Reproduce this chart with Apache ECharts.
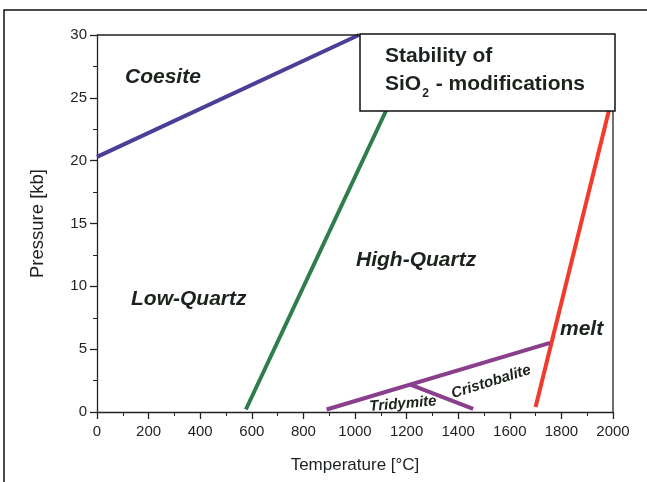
<!DOCTYPE html>
<html><head><meta charset="utf-8">
<script src="https://cdn.jsdelivr.net/npm/echarts@6/dist/echarts.min.js"></script>
<style>html,body{margin:0;padding:0;background:#fff}#c{width:647px;height:482px}</style>
</head><body><div id="c"></div>
<script>
// Phase boundaries [T °C, P kb]
const coesiteBoundary = [[0, 20.3], [1015, 30]];
const quartzBoundary = [[577, 0.2], [1258, 30]];
const meltBoundary = [[1700, 0.4], [2000, 25.3]];
const cristobaliteBoundary = [[890, 0.2], [1756, 5.5]];
const tridymiteBoundary = [[1217, 2.15], [1458, 0.25]];
const xTicks = [0, 200, 400, 600, 800, 1000, 1200, 1400, 1600, 1800, 2000];
const yTicks = [0, 5, 10, 15, 20, 25, 30];

const chart = echarts.init(document.getElementById('c'));
const FONT = 'Liberation Sans, Arial, sans-serif';
const TXT = '#1c221c';
function line(data, color) {
  return { type: 'line', data: data, symbol: 'none', clip: true,
    lineStyle: { color: color, width: 4 }, z: 3 };
}
function label(text, x, y, size, rot) {
  return { type: 'text', left: x, top: y, rotation: (rot || 0) * Math.PI / 180, z: 10,
    style: { text: text, font: 'italic bold ' + size + 'px ' + FONT, fill: TXT } };
}
chart.setOption({
  animation: false,
  grid: { left: 97, right: 34, top: 35, bottom: 70, show: false },
  xAxis: {
    type: 'value', min: 0, max: 2000, interval: 200,
    name: 'Temperature [°C]', nameLocation: 'middle', nameGap: 45,
    nameTextStyle: { fontFamily: FONT, fontSize: 17, color: TXT },
    axisLine: { show: true, onZero: false, lineStyle: { color: '#222', width: 1.3 } },
    axisTick: { show: true, length: 7, lineStyle: { color: '#222', width: 1.3 } },
    minorTick: { show: true, splitNumber: 2, length: 4, lineStyle: { color: '#222' } },
    splitLine: { show: false },
    axisLabel: { fontFamily: FONT, fontSize: 15, color: TXT, margin: 12,
      formatter: v => xTicks.includes(v) ? String(v) : '' }
  },
  yAxis: {
    type: 'value', min: 0, max: 30, interval: 5,
    name: 'Pressure [kb]', nameLocation: 'middle', nameGap: 50,
    nameTextStyle: { fontFamily: FONT, fontSize: 18.5, color: TXT },
    axisLine: { show: true, onZero: false, lineStyle: { color: '#222', width: 1.3 } },
    axisTick: { show: true, length: 7, lineStyle: { color: '#222', width: 1.3 } },
    minorTick: { show: true, splitNumber: 2, length: 4, lineStyle: { color: '#222' } },
    splitLine: { show: false },
    axisLabel: { fontFamily: FONT, fontSize: 15, color: TXT, margin: 10,
      formatter: v => yTicks.includes(v) ? String(v) : '' }
  },
  series: [
    line(coesiteBoundary, '#4a3f98'),
    line(quartzBoundary, '#2f7d4c'),
    line(meltBoundary, '#f23b2b'),
    line(cristobaliteBoundary, '#8a3f8c'),
    line(tridymiteBoundary, '#8a3f8c')
  ],
  graphic: [
    { type: 'rect', shape: { x: 4, y: 10, width: 660, height: 500 }, z: 0, silent: true,
      style: { fill: 'none', stroke: '#111', lineWidth: 1.5 } },
    { type: 'line', shape: { x1: 97, y1: 35, x2: 613, y2: 35 }, z: 5,
      style: { stroke: '#222', lineWidth: 1.3 } },
    { type: 'line', shape: { x1: 613, y1: 35, x2: 613, y2: 412 }, z: 5,
      style: { stroke: '#222', lineWidth: 1.3 } },
    { type: 'rect', shape: { x: 360, y: 34, width: 255, height: 77 }, z: 20,
      style: { fill: '#fff', stroke: '#111', lineWidth: 1.5 } },
    { type: 'text', left: 385, top: 46, z: 21,
      style: { text: 'Stability of', font: 'bold 21px ' + FONT, fill: TXT } },
    { type: 'text', left: 385, top: 74, z: 21,
      style: { text: '{a|SiO}{b|2}{a| - modifications}', fill: TXT,
        rich: { a: { font: 'bold 21px ' + FONT, fill: TXT, lineHeight: 26, verticalAlign: 'top' },
                b: { font: 'bold 12px ' + FONT, fill: TXT, lineHeight: 26, verticalAlign: 'bottom', padding: [13, 1, 0, 1] } } } },
    label('Coesite', 125, 67, 21),
    label('High-Quartz', 356, 250, 21),
    label('Low-Quartz', 131, 289, 21),
    label('melt', 560, 319, 21),
    { type: 'text', x: 491, y: 382, rotation: 17.5 * Math.PI / 180, z: 10,
      style: { text: 'Cristobalite', font: 'italic bold 15px ' + FONT, fill: TXT, align: 'center', verticalAlign: 'middle' } },
    { type: 'text', x: 403, y: 404, rotation: 5 * Math.PI / 180, z: 10,
      style: { text: 'Tridymite', font: 'italic bold 15px ' + FONT, fill: TXT, align: 'center', verticalAlign: 'middle' } }
  ]
});
</script></body></html>
